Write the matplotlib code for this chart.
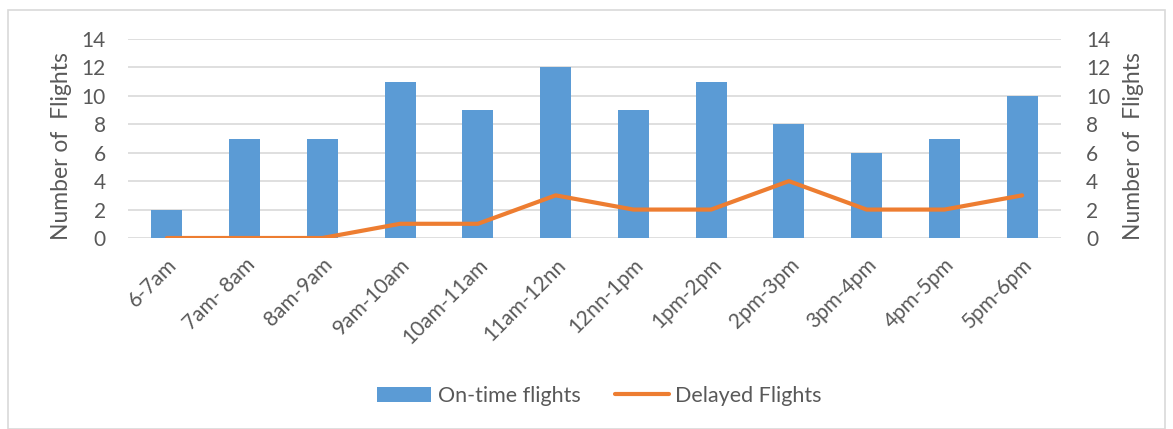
import matplotlib
matplotlib.use("Agg")
import matplotlib.pyplot as plt
from matplotlib.patches import Rectangle
from matplotlib.lines import Line2D
from matplotlib.patches import Patch

plt.rcParams['font.family'] = ['Lato', 'DejaVu Sans']

time_slots = ["6-7am", "7am- 8am", "8am-9am", "9am-10am", "10am-11am", "11am-12nn",
              "12nn-1pm", "1pm-2pm", "2pm-3pm", "3pm-4pm", "4pm-5pm", "5pm-6pm"]
on_time = [2, 7, 7, 11, 9, 12, 9, 11, 8, 6, 7, 10]
delayed = [0, 0, 0, 1, 1, 3, 2, 2, 4, 2, 2, 3]
y_ticks = [0, 2, 4, 6, 8, 10, 12, 14]
axis_title = "Number of  Flights"

BLUE = "#5B9BD5"
ORANGE = "#ED7D31"
TEXT = "#595959"
GRID = "#D9D9D9"

W, H = 1173, 429
fig = plt.figure(figsize=(W / 100, H / 100), dpi=100)
fig.patches.append(Rectangle((8 / W, 0.0), 1157 / W, 1 - 10 / H,
                             transform=fig.transFigure, fill=False,
                             edgecolor=GRID, linewidth=1.2))

ax = fig.add_axes([128 / W, 1 - 238 / H, 933 / W, 199 / H])
x = list(range(len(time_slots)))
ax.bar(x, on_time, width=0.4, color=BLUE, zorder=2)
ax.plot(x, delayed, color=ORANGE, linewidth=3.0, solid_capstyle='round', zorder=3)

ax.set_xlim(-0.5, len(time_slots) - 0.5)
ax.set_ylim(0, 14)
ax.set_yticks(y_ticks)
ax.yaxis.grid(True, color=GRID, linewidth=1.2, zorder=0)
ax.set_axisbelow(True)
for s in ax.spines.values():
    s.set_visible(False)
ax.tick_params(axis='both', length=0, colors=TEXT, labelsize=15)
ax.tick_params(axis='y', pad=16)
ax.set_xticks(x)
ax.set_xticklabels(time_slots, rotation=45, ha='right', rotation_mode='anchor')
ax.tick_params(axis='x', pad=12)

ax2 = ax.twinx()
ax2.set_ylim(0, 14)
ax2.set_yticks(y_ticks)
for s in ax2.spines.values():
    s.set_visible(False)
ax2.tick_params(axis='y', length=0, colors=TEXT, labelsize=15, pad=18)

# Axis titles on both sides
fig.text(62 / W, 1 - 146 / H, axis_title, rotation=90, ha='center', va='center',
         fontsize=16.5, color=TEXT)
fig.text(1133 / W, 1 - 146 / H, axis_title, rotation=90, ha='center', va='center',
         fontsize=16.5, color=TEXT)

handles = [Patch(facecolor=BLUE, edgecolor='none'),
           Line2D([0], [0], color=ORANGE, linewidth=3.0, solid_capstyle='round')]
fig.legend(handles, ["On-time flights", "Delayed Flights"], loc='center',
           bbox_to_anchor=(0.511, 1 - 396 / H), ncol=2, frameon=False,
           fontsize=15.5, labelcolor=TEXT, handlelength=2.5, handleheight=0.75,
           columnspacing=1.6, handletextpad=0.3)

fig.savefig("out.png", dpi=100)
